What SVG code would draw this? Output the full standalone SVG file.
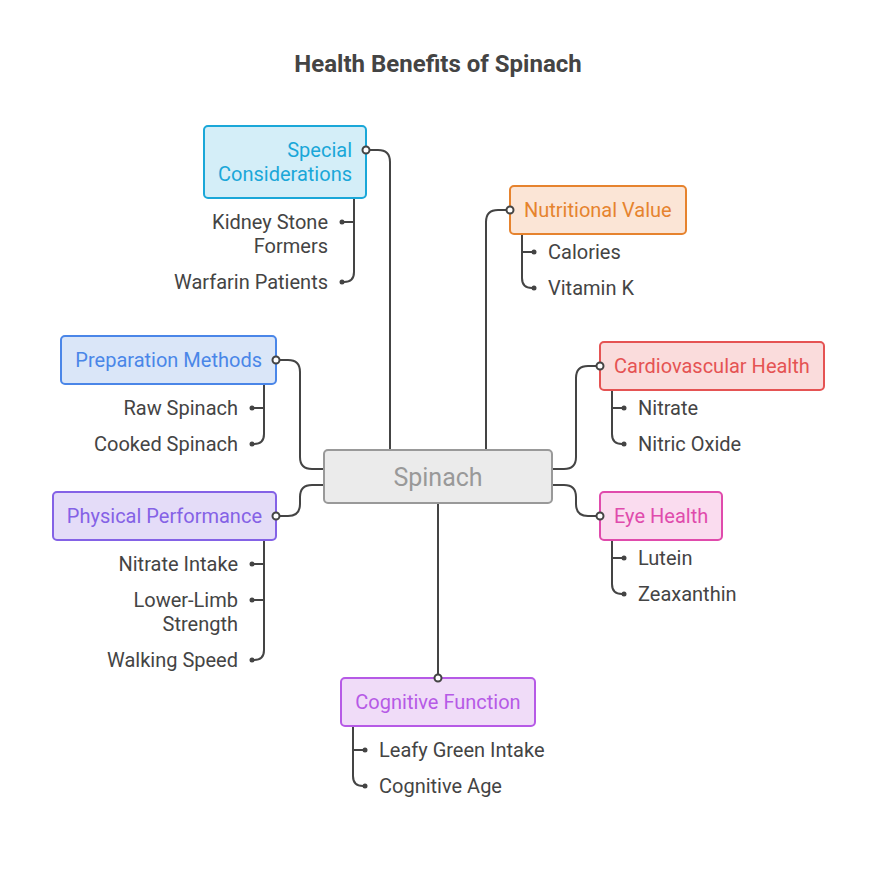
<svg xmlns="http://www.w3.org/2000/svg" width="876" height="876" viewBox="0 0 876 876">
<style>
text{font-family:Roboto,"Liberation Sans",sans-serif}
.t{font-size:20px;fill:#444}
.h{font-size:20px}
.c{fill:none;stroke:#444;stroke-width:2}
.d{fill:#444}
.o{fill:#fff;stroke:#444;stroke-width:2}
</style>
<rect width="876" height="876" fill="#fff"/>
<text x="438" y="72" text-anchor="middle" style="font-size:24px;font-weight:bold;fill:#444">Health Benefits of Spinach</text>
<g id="connectors">
<path class="c" d="M366,150 H378 Q390,150 390,162 V450"/>
<path class="c" d="M510,210 H498 Q486,210 486,222 V450"/>
<path class="c" d="M552,469 H564 Q576,469 576,457 V378 Q576,366 588,366 H600"/>
<path class="c" d="M552,485 H564 Q576,485 576,497 V504 Q576,516 588,516 H600"/>
<path class="c" d="M438,503 V678"/>
<path class="c" d="M324,485 H312 Q300,485 300,497 V504 Q300,516 288,516 H276"/>
<path class="c" d="M324,469 H312 Q300,469 300,457 V372 Q300,360 288,360 H276"/>
<path class="c" d="M354,198 V272 Q354,282 344,282 H342 M354,222 H342"/>
<path class="c" d="M522,234 V278 Q522,288 532,288 H534 M522,252 H534"/>
<path class="c" d="M612,390 V434 Q612,444 622,444 H624 M612,408 H624"/>
<path class="c" d="M612,540 V584 Q612,594 622,594 H624 M612,558 H624"/>
<path class="c" d="M353,726 V776 Q353,786 363,786 H365 M353,750 H365"/>
<path class="c" d="M264,384 V434 Q264,444 254,444 H252 M264,408 H252"/>
<path class="c" d="M264,540 V650 Q264,660 254,660 H252 M264,564 H252 M264,600 H252"/>
<g class="d">
<circle cx="342" cy="222" r="2.5"/><circle cx="342" cy="282" r="2.5"/>
<circle cx="534" cy="252" r="2.5"/><circle cx="534" cy="288" r="2.5"/>
<circle cx="624" cy="408" r="2.5"/><circle cx="624" cy="444" r="2.5"/>
<circle cx="624" cy="558" r="2.5"/><circle cx="624" cy="594" r="2.5"/>
<circle cx="365" cy="750" r="2.5"/><circle cx="365" cy="786" r="2.5"/>
<circle cx="252" cy="408" r="2.5"/><circle cx="252" cy="444" r="2.5"/>
<circle cx="252" cy="564" r="2.5"/><circle cx="252" cy="600" r="2.5"/><circle cx="252" cy="660" r="2.5"/>
</g>
</g>
<g id="spinach">
<rect x="324" y="450" width="228" height="53" rx="4" fill="#ebebeb" stroke="#999" stroke-width="2"/>
<text x="438" y="486" text-anchor="middle" style="font-size:25px;fill:#999">Spinach</text>
</g>
<g id="special">
<rect x="204" y="126" width="162" height="72" rx="4" fill="#d4eef8" stroke="#1aa7d8" stroke-width="2"/>
<text class="h" x="352" y="157" text-anchor="end" fill="#1aa7d8">Special</text>
<text class="h" x="352" y="181" text-anchor="end" fill="#1aa7d8">Considerations</text>
<circle class="o" cx="366" cy="150" r="3.5"/>
<text class="t" x="328" y="229" text-anchor="end">Kidney Stone</text>
<text class="t" x="328" y="253" text-anchor="end">Formers</text>
<text class="t" x="328" y="289" text-anchor="end">Warfarin Patients</text>
</g>
<g id="nutritional">
<rect x="510" y="186" width="176" height="48" rx="4" fill="#fbe5d6" stroke="#e6832e" stroke-width="2"/>
<text class="h" x="524" y="217" fill="#e6832e">Nutritional Value</text>
<circle class="o" cx="510" cy="210" r="3.5"/>
<text class="t" x="548" y="259">Calories</text>
<text class="t" x="548" y="295">Vitamin K</text>
</g>
<g id="cardio">
<rect x="600" y="342" width="224" height="48" rx="4" fill="#fadcdc" stroke="#e55353" stroke-width="2"/>
<text class="h" x="614" y="373" fill="#e55353">Cardiovascular Health</text>
<circle class="o" cx="600" cy="366" r="3.5"/>
<text class="t" x="638" y="415">Nitrate</text>
<text class="t" x="638" y="451">Nitric Oxide</text>
</g>
<g id="eye">
<rect x="600" y="492" width="122" height="48" rx="4" fill="#fadcef" stroke="#e04bac" stroke-width="2"/>
<text class="h" x="614" y="523" fill="#e04bac">Eye Health</text>
<circle class="o" cx="600" cy="516" r="3.5"/>
<text class="t" x="638" y="565">Lutein</text>
<text class="t" x="638" y="601">Zeaxanthin</text>
</g>
<g id="cognitive">
<rect x="341" y="678" width="194" height="48" rx="4" fill="#f0dcf8" stroke="#b65ae6" stroke-width="2"/>
<text class="h" x="438" y="709" text-anchor="middle" fill="#b65ae6">Cognitive Function</text>
<circle class="o" cx="438" cy="678" r="3.5"/>
<text class="t" x="379" y="757">Leafy Green Intake</text>
<text class="t" x="379" y="793">Cognitive Age</text>
</g>
<g id="physical">
<rect x="53" y="492" width="223" height="48" rx="4" fill="#e4dcf8" stroke="#8462e6" stroke-width="2"/>
<text class="h" x="262" y="523" text-anchor="end" fill="#8462e6">Physical Performance</text>
<circle class="o" cx="276" cy="516" r="3.5"/>
<text class="t" x="238" y="571" text-anchor="end">Nitrate Intake</text>
<text class="t" x="238" y="607" text-anchor="end">Lower-Limb</text>
<text class="t" x="238" y="631" text-anchor="end">Strength</text>
<text class="t" x="238" y="667" text-anchor="end">Walking Speed</text>
</g>
<g id="preparation">
<rect x="61" y="336" width="215" height="48" rx="4" fill="#dae6f8" stroke="#4a86e8" stroke-width="2"/>
<text class="h" x="262" y="367" text-anchor="end" fill="#4a86e8">Preparation Methods</text>
<circle class="o" cx="276" cy="360" r="3.5"/>
<text class="t" x="238" y="415" text-anchor="end">Raw Spinach</text>
<text class="t" x="238" y="451" text-anchor="end">Cooked Spinach</text>
</g>
</svg>
